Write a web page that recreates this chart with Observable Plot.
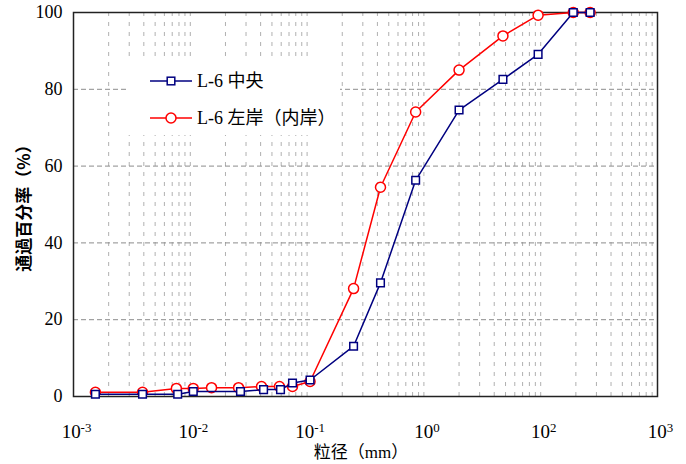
<!DOCTYPE html>
<html><head><meta charset="utf-8">
<script src="https://cdn.jsdelivr.net/npm/d3@7"></script>
<script src="https://cdn.jsdelivr.net/npm/@observablehq/plot@0.6"></script>
<style>body{margin:0;background:#fff} svg{display:block}</style>
</head><body><div id="chart"></div>
<script>
// particle size (mm) and percent passing
const sizeCenter = [0.00154, 0.0039, 0.0078, 0.0106, 0.0269, 0.0424, 0.0592, 0.075, 0.106, 0.25, 0.425, 0.85, 2, 4.75, 9.5, 19, 26.5];
const passCenter = [0.6, 0.6, 0.6, 1.3, 1.3, 1.8, 1.8, 3.5, 4.3, 13.1, 29.6, 56.3, 74.6, 82.6, 89.1, 100, 100];
const sizeLeft = [0.00154, 0.0039, 0.0076, 0.0106, 0.0152, 0.0259, 0.0407, 0.058, 0.075, 0.106, 0.25, 0.425, 0.85, 2, 4.75, 9.5, 19, 26.5];
const passLeft = [1.1, 1.1, 2.1, 2.1, 2.3, 2.3, 2.6, 2.6, 2.6, 3.9, 28.1, 54.5, 74.1, 85.0, 93.9, 99.3, 100, 100];
const seriesNames = ["L-6 中央", "L-6 左岸（内岸）"];
const seriesColors = ["#000080", "#ff0000"];
const xTickValues = [1e-3, 1e-2, 1e-1, 1, 10, 100];
const xTickLabels = ["10^-3", "10^-2", "10^-1", "10^0", "10^2", "10^3"];
const yTicks = [0, 20, 40, 60, 80, 100];
const yGrid = [20, 40, 60, 80];
const xTitle = "粒径（mm）";
const yTitle = "通過百分率（%）";

const center = sizeCenter.map((s, i) => ({size: s, pass: passCenter[i]}));
const left = sizeLeft.map((s, i) => ({size: s, pass: passLeft[i]}));
const xGrid = d3.scaleLog().domain([1e-3, 1e2]).ticks();

const svg = Plot.plot({
  width: 686, height: 464,
  marginLeft: 73, marginRight: 29, marginTop: 12, marginBottom: 68,
  style: {fontFamily: "'Liberation Serif','Times New Roman',serif", fontSize: "18px", color: "#000", background: "#fff"},
  x: {type: "log", domain: [1e-3, 1e2]},
  y: {domain: [0, 100]},
  marks: [
    Plot.ruleX(xGrid, {stroke: "#b0b0b0", strokeWidth: 1, strokeDasharray: "4,6"}),
    Plot.ruleY(yGrid, {stroke: "#8c8c8c", strokeWidth: 1, strokeDasharray: "5,3"}),
    Plot.axisY({ticks: yTicks, tickSize: 0, tickPadding: 11, label: null, fontSize: 18}),
    Plot.axisX({ticks: xTickValues, tickSize: 0, tickPadding: 28, label: null, fontSize: 19, dx: 3,
      tickFormat: d => xTickLabels[xTickValues.findIndex(v => Math.abs(Math.log10(v) - Math.log10(d)) < 1e-6)]}),
    Plot.frame({stroke: "#222", strokeWidth: 1.5}),
    Plot.line(left, {x: "size", y: "pass", stroke: seriesColors[1], strokeWidth: 1.5}),
    Plot.dot(left, {x: "size", y: "pass", r: 5, fill: "white", stroke: seriesColors[1], strokeWidth: 1.5}),
    Plot.line(center, {x: "size", y: "pass", stroke: seriesColors[0], strokeWidth: 1.5}),
    Plot.dot(center, {x: "size", y: "pass", symbol: "square", r: 4.3, fill: "white", stroke: seriesColors[0], strokeWidth: 1.5})
  ]
});
document.getElementById("chart").appendChild(svg);

// superscript tick labels
d3.select(svg).selectAll('[aria-label="x-axis tick label"] text').each(function() {
  const t = this.textContent;
  const [base, exp] = t.split("^");
  const sel = d3.select(this);
  sel.text(null);
  sel.append("tspan").text(base);
  sel.append("tspan").attr("dy", "-0.45em").attr("font-size", "0.68em").text(exp);
});

const s = d3.select(svg);
s.append("text")
  .attr("transform", "translate(22,204) rotate(-90)")
  .attr("text-anchor", "middle").attr("dominant-baseline", "central")
  .attr("font-family", "'Noto Sans CJK SC',sans-serif").attr("font-weight", "bold").attr("font-size", 17)
  .attr("fill", "#000").text(yTitle);
s.append("text")
  .attr("x", 361).attr("y", 452)
  .attr("text-anchor", "middle").attr("dominant-baseline", "central")
  .attr("font-family", "'Liberation Serif','Noto Sans CJK SC',serif").attr("font-size", 17)
  .attr("fill", "#000").text(xTitle);

// legend
const lg = s.append("g").attr("text-anchor", "start");
lg.append("rect").attr("x", 126).attr("y", 57).attr("width", 214).attr("height", 78).attr("fill", "white");
const rows = [81, 118];
rows.forEach((yy, i) => {
  lg.append("line").attr("x1", 150).attr("x2", 192).attr("y1", yy).attr("y2", yy)
    .attr("stroke", seriesColors[i]).attr("stroke-width", 1.5);
  if (i === 0) {
    lg.append("rect").attr("x", 171 - 3.8).attr("y", yy - 3.8).attr("width", 7.6).attr("height", 7.6)
      .attr("fill", "white").attr("stroke", seriesColors[i]).attr("stroke-width", 1.5);
  } else {
    lg.append("circle").attr("cx", 171).attr("cy", yy).attr("r", 5)
      .attr("fill", "white").attr("stroke", seriesColors[i]).attr("stroke-width", 1.5);
  }
  lg.append("text").attr("x", 197).attr("y", yy).attr("dominant-baseline", "central")
    .attr("text-anchor", "start")
    .attr("font-family", "'Liberation Serif','Noto Sans CJK SC',serif").attr("font-size", 18)
    .attr("fill", "#000").text(seriesNames[i]);
});
</script></body></html>
